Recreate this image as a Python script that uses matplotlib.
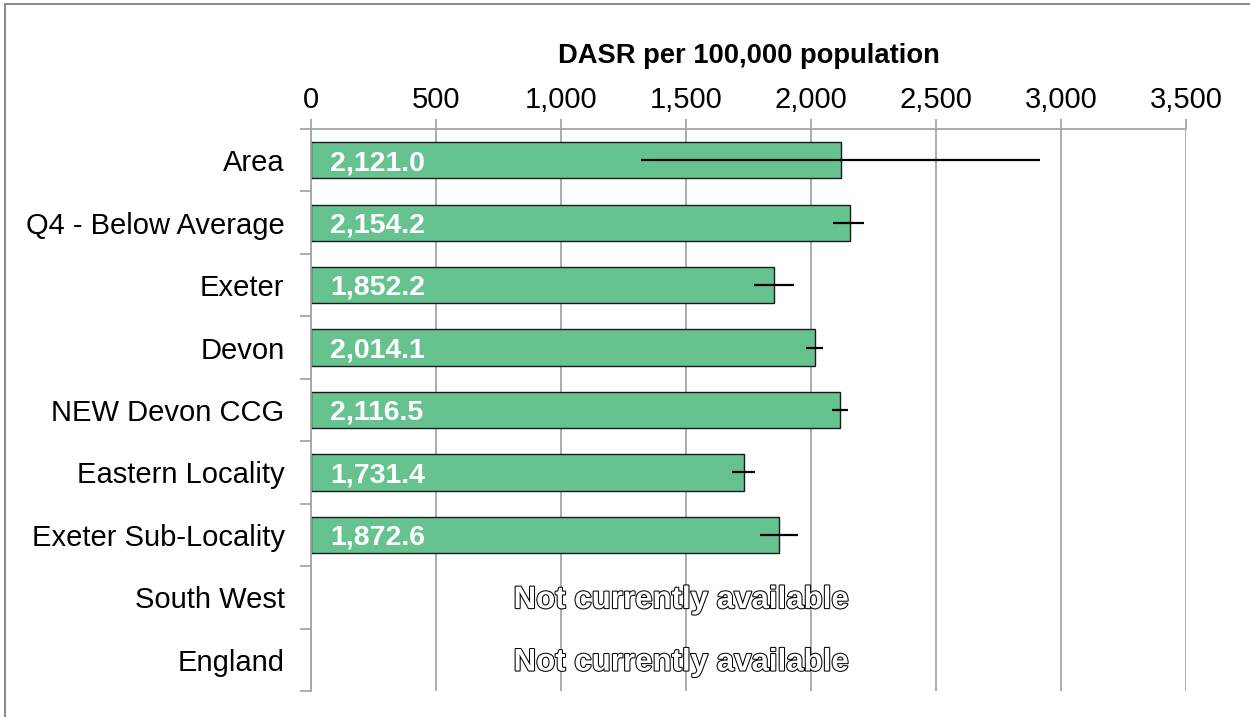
import matplotlib.pyplot as plt
import matplotlib.patheffects as pe
from matplotlib.patches import Rectangle
import numpy as np

plt.rcParams['font.family'] = ['Liberation Sans', 'DejaVu Sans']

# Chart data
areas = ['Area', 'Q4 - Below Average', 'Exeter', 'Devon', 'NEW Devon CCG',
         'Eastern Locality', 'Exeter Sub-Locality', 'South West', 'England']
dasr = [2121.0, 2154.2, 1852.2, 2014.1, 2116.5, 1731.4, 1872.6, np.nan, np.nan]
ci_low = [1320, 2088, 1772, 1978, 2083, 1684, 1796, np.nan, np.nan]
ci_high = [2916, 2212, 1932, 2049, 2149, 1777, 1947, np.nan, np.nan]
x_ticks = [0, 500, 1000, 1500, 2000, 2500, 3000, 3500]
missing_text = 'Not currently available'

bar_colour = '#66C28F'
grid_colour = '#A6A6A6'

fig = plt.figure(figsize=(12.5, 7.17), dpi=100)
ax = fig.add_axes([311 / 1250, 1 - 691 / 717, 875 / 1250, 562 / 717])

y = np.arange(len(areas))
vals = np.array(dasr)
lo = np.array(ci_low)
hi = np.array(ci_high)
ok = ~np.isnan(vals)
err = np.vstack([vals - lo, hi - vals])

ax.barh(y[ok], vals[ok], height=0.58, color=bar_colour,
        edgecolor='#1a1a1a', linewidth=1.0, zorder=2)
ax.errorbar(vals[ok], y[ok], xerr=err[:, ok], fmt='none', ecolor='black',
            elinewidth=1.6, capsize=0, zorder=3)

for i, v in enumerate(dasr):
    if np.isnan(v):
        t = ax.annotate(missing_text, (1480, i), xytext=(0, -2),
                        textcoords='offset points', ha='center', va='center',
                        fontsize=22.5, fontweight='bold', color='white',
                        zorder=4)
        t.set_path_effects([pe.Stroke(linewidth=1.5, foreground='black'),
                            pe.Normal()])
    else:
        ax.annotate(f'{v:,.1f}', (0, i), xytext=(14, -2),
                    textcoords='offset points', ha='left', va='center',
                    fontsize=20.5, fontweight='bold', color='white', zorder=4)

ax.set_xlim(0, 3500)
ax.set_ylim(len(areas) - 0.5, -0.5)
ax.set_xticks(x_ticks)
ax.set_xticklabels([f'{t:,}' for t in x_ticks], fontsize=21)
ax.xaxis.tick_top()
ax.xaxis.set_label_position('top')
ax.set_xlabel('DASR per 100,000 population', fontsize=19.7, fontweight='bold',
              labelpad=16.5)
ax.tick_params(axis='x', length=7, width=1.3, color=grid_colour, pad=4)

ax.set_yticks(y)
ax.set_yticklabels(areas, fontsize=21)
ax.set_yticks(np.arange(len(areas) + 1) - 0.5, minor=True)
ax.tick_params(axis='y', which='major', length=0, pad=19)
ax.tick_params(axis='y', which='minor', length=8, width=1.3, color=grid_colour)

ax.grid(axis='x', color=grid_colour, linewidth=1.3, zorder=0)
ax.set_axisbelow(True)
for s in ['right', 'bottom']:
    ax.spines[s].set_visible(False)
for s in ['top', 'left']:
    ax.spines[s].set_color(grid_colour)
    ax.spines[s].set_linewidth(1.3)

# outer chart border
fig.patches.append(Rectangle((5 / 1250, -0.1), 1.1, 1 - 4 / 717 + 0.1,
                             transform=fig.transFigure, fill=False,
                             edgecolor='#8c8c8c', linewidth=1.5))

fig.savefig('out.png', dpi=100)
